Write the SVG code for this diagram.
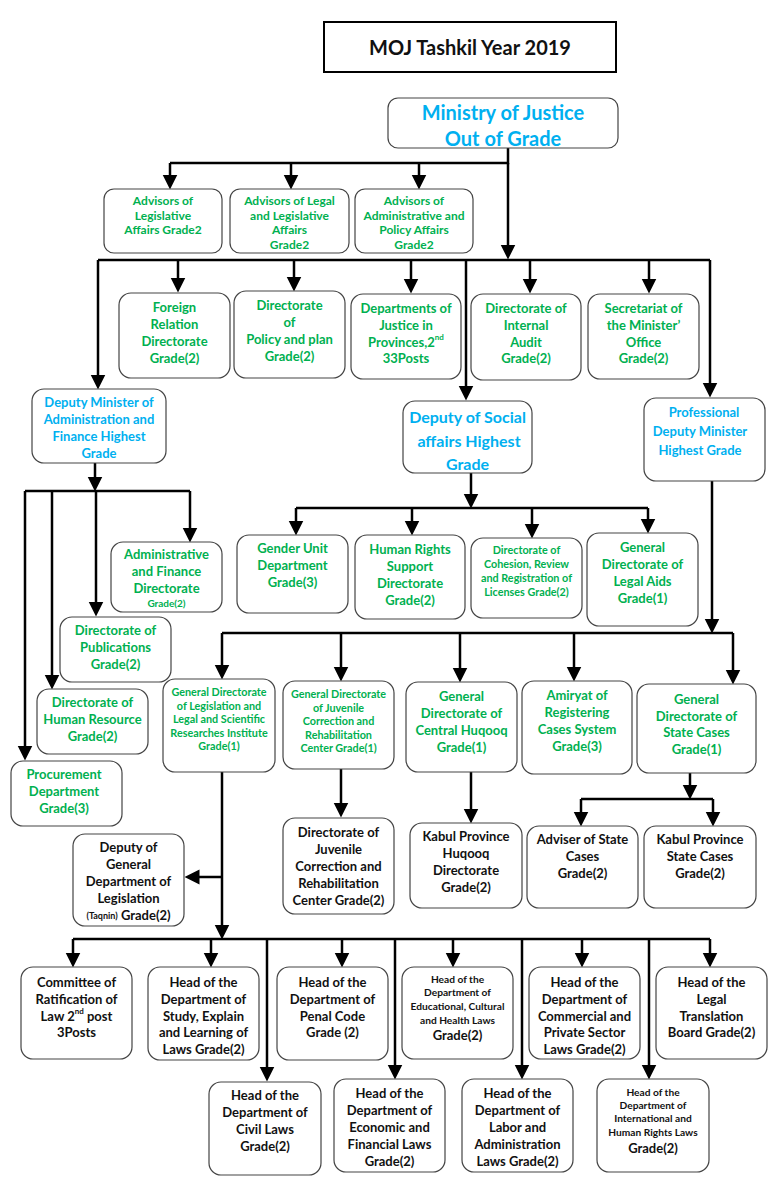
<svg xmlns="http://www.w3.org/2000/svg" width="780" height="1200" viewBox="0 0 780 1200">
<style>
.box{fill:#fff;stroke:#444;stroke-width:1.2}
.t{font-family:Lato,"Open Sans","Liberation Sans",sans-serif;font-weight:bold;text-anchor:middle;dominant-baseline:central}
.g{fill:#00B050}
.b{fill:#00B0F0}
.k{fill:#111}
.s13{font-size:13px}
.s10{font-size:10.8px}
.s9{font-size:10.2px}
.s11{font-size:12px}
.c path{fill:none;stroke:#000;stroke-width:2.5}
.c path.a{marker-end:url(#ah)}
</style>
<defs>
<marker id="ah" viewBox="0 0 10 10" refX="7" refY="5" markerWidth="15" markerHeight="16" markerUnits="userSpaceOnUse" orient="auto"><path d="M0,0 L10,5 L0,10 z" fill="#000"/></marker>
</defs>
<rect width="780" height="1200" fill="#fff"/>

<g id="title">
<rect x="324" y="22" width="292" height="50" fill="#fff" stroke="#000" stroke-width="2"/>
<text class="t k" x="470" y="47" font-size="20">MOJ Tashkil Year 2019</text>
</g>

<g class="c" id="connectors">
<path d="M508,148 V163 H170"/>
<path class="a" d="M508,163 V255"/>
<path class="a" d="M170,163 V185"/>
<path class="a" d="M291,163 V185"/>
<path class="a" d="M419,163 V185"/>
<path d="M98,260 H710"/>
<path class="a" d="M98,260 V385"/>
<path class="a" d="M178,260 V288"/>
<path class="a" d="M294,260 V287"/>
<path class="a" d="M411,260 V289"/>
<path class="a" d="M530,260 V289"/>
<path class="a" d="M649,260 V289"/>
<path class="a" d="M466,260 V396"/>
<path class="a" d="M710,260 V393"/>
<path class="a" d="M95,463 V487"/>
<path d="M25,491 H190"/>
<path class="a" d="M25,491 V756"/>
<path class="a" d="M52,491 V685"/>
<path class="a" d="M96,491 V612"/>
<path class="a" d="M190,491 V538"/>
<path class="a" d="M471,473 V504"/>
<path d="M296,508 H648"/>
<path class="a" d="M296,508 V531"/>
<path class="a" d="M412,508 V531"/>
<path class="a" d="M532,508 V534"/>
<path class="a" d="M648,508 V529"/>
<path class="a" d="M712,481 V629"/>
<path d="M222,633 H733"/>
<path class="a" d="M222,633 V675"/>
<path class="a" d="M341,633 V677"/>
<path class="a" d="M460,633 V678"/>
<path class="a" d="M574,633 V677"/>
<path class="a" d="M733,633 V680"/>
<path class="a" d="M341,769 V813"/>
<path class="a" d="M471,772 V819"/>
<path class="a" d="M690,773 V795"/>
<path d="M581,799 H713"/>
<path class="a" d="M581,799 V822"/>
<path class="a" d="M713,799 V822"/>
<path class="a" d="M222,772 V935"/>
<path class="a" d="M222,877 H189"/>
<path d="M73,939 H710"/>
<path class="a" d="M73,939 V963"/>
<path class="a" d="M211,939 V963"/>
<path class="a" d="M342,939 V963"/>
<path class="a" d="M453,939 V963"/>
<path class="a" d="M582,939 V963"/>
<path class="a" d="M710,939 V963"/>
<path class="a" d="M267,939 V1077"/>
<path class="a" d="M395,939 V1075"/>
<path class="a" d="M522,939 V1075"/>
<path class="a" d="M649,939 V1075"/>
</g>

<g id="ministry">
<rect class="box" x="388" y="98" width="230" height="50" rx="10"/>
<text class="t b" x="503" y="112" font-size="20">Ministry of Justice</text>
<text class="t b" x="503" y="138" font-size="20">Out of Grade</text>
</g>

<g id="adv1">
<rect class="box" x="104" y="189" width="118" height="64" rx="10"/>
<text class="t g s11" x="163" y="200">Advisors of</text>
<text class="t g s11" x="163" y="215">Legislative</text>
<text class="t g s11" x="163" y="229">Affairs Grade2</text>
</g>
<g id="adv2">
<rect class="box" x="230" y="189" width="119" height="64" rx="10"/>
<text class="t g s11" x="289.5" y="200">Advisors of Legal</text>
<text class="t g s11" x="289.5" y="215">and Legislative</text>
<text class="t g s11" x="289.5" y="229">Affairs</text>
<text class="t g s11" x="289.5" y="244">Grade2</text>
</g>
<g id="adv3">
<rect class="box" x="355" y="189" width="118" height="64" rx="10"/>
<text class="t g s11" x="414" y="200">Advisors of</text>
<text class="t g s11" x="414" y="215">Administrative and</text>
<text class="t g s11" x="414" y="229">Policy Affairs</text>
<text class="t g s11" x="414" y="244">Grade2</text>
</g>

<g id="foreign">
<rect class="box" x="119" y="293" width="111" height="85" rx="12"/>
<text class="t g s13" x="174.5" y="307">Foreign</text>
<text class="t g s13" x="174.5" y="324">Relation</text>
<text class="t g s13" x="174.5" y="341">Directorate</text>
<text class="t g s13" x="174.5" y="358">Grade(2)</text>
</g>
<g id="policy">
<rect class="box" x="234" y="291" width="111" height="87" rx="12"/>
<text class="t g s13" x="289.5" y="305">Directorate</text>
<text class="t g s13" x="289.5" y="322">of</text>
<text class="t g s13" x="289.5" y="339">Policy and plan</text>
<text class="t g s13" x="289.5" y="356">Grade(2)</text>
</g>
<g id="deptjustice">
<rect class="box" x="351" y="294" width="110" height="85" rx="12"/>
<text class="t g s13" x="406" y="308">Departments of</text>
<text class="t g s13" x="406" y="325">Justice in</text>
<text class="t g s13" x="406" y="342">Provinces,2<tspan font-size="8" dy="-5">nd</tspan></text>
<text class="t g s13" x="406" y="358">33Posts</text>
</g>
<g id="audit">
<rect class="box" x="471" y="294" width="110" height="86" rx="12"/>
<text class="t g s13" x="526" y="308">Directorate of</text>
<text class="t g s13" x="526" y="325">Internal</text>
<text class="t g s13" x="526" y="342">Audit</text>
<text class="t g s13" x="526" y="358">Grade(2)</text>
</g>
<g id="secretariat">
<rect class="box" x="588" y="294" width="111" height="85" rx="12"/>
<text class="t g s13" x="643.5" y="308">Secretariat of</text>
<text class="t g s13" x="643.5" y="325">the Minister’</text>
<text class="t g s13" x="643.5" y="342">Office</text>
<text class="t g s13" x="643.5" y="358">Grade(2)</text>
</g>

<g id="depadmin">
<rect class="box" x="32" y="389" width="134" height="74" rx="12"/>
<text class="t b s13" x="99" y="402">Deputy Minister of</text>
<text class="t b s13" x="99" y="419">Administration and</text>
<text class="t b s13" x="99" y="436">Finance Highest</text>
<text class="t b s13" x="99" y="453">Grade</text>
</g>
<g id="depsocial">
<rect class="box" x="403" y="401" width="129" height="72" rx="12"/>
<text class="t b" x="467.5" y="416" font-size="16">Deputy of Social</text>
<text class="t b" x="469" y="440" font-size="16">affairs Highest</text>
<text class="t b" x="467.5" y="463" font-size="16">Grade</text>
</g>
<g id="professional">
<rect class="box" x="644" y="398" width="121" height="83" rx="12"/>
<text class="t b s13" x="704" y="412">Professional</text>
<text class="t b s13" x="700" y="431">Deputy Minister</text>
<text class="t b s13" x="700" y="450">Highest Grade</text>
</g>

<g id="adminfin">
<rect class="box" x="111" y="542" width="111" height="70" rx="12"/>
<text class="t g s13" x="166.5" y="554">Administrative</text>
<text class="t g s13" x="166.5" y="571">and Finance</text>
<text class="t g s13" x="166.5" y="588">Directorate</text>
<text class="t g" x="166.5" y="603" font-size="10">Grade(2)</text>
</g>
<g id="publications">
<rect class="box" x="60" y="617" width="111" height="65" rx="12"/>
<text class="t g s13" x="115.5" y="630">Directorate of</text>
<text class="t g s13" x="115.5" y="647">Publications</text>
<text class="t g s13" x="115.5" y="664">Grade(2)</text>
</g>
<g id="hr">
<rect class="box" x="37" y="689" width="111" height="65" rx="12"/>
<text class="t g s13" x="92.5" y="702">Directorate of</text>
<text class="t g s13" x="92.5" y="719">Human Resource</text>
<text class="t g s13" x="92.5" y="736">Grade(2)</text>
</g>
<g id="procurement">
<rect class="box" x="11" y="761" width="111" height="65" rx="12"/>
<text class="t g s13" x="64" y="774">Procurement</text>
<text class="t g s13" x="64" y="791">Department</text>
<text class="t g s13" x="64" y="808">Grade(3)</text>
</g>

<g id="gender">
<rect class="box" x="237" y="535" width="111" height="78" rx="12"/>
<text class="t g s13" x="292.5" y="548">Gender Unit</text>
<text class="t g s13" x="292.5" y="565">Department</text>
<text class="t g s13" x="292.5" y="582">Grade(3)</text>
</g>
<g id="humanrights">
<rect class="box" x="355" y="535" width="110" height="84" rx="12"/>
<text class="t g s13" x="410" y="549">Human Rights</text>
<text class="t g s13" x="410" y="566">Support</text>
<text class="t g s13" x="410" y="583">Directorate</text>
<text class="t g s13" x="410" y="600">Grade(2)</text>
</g>
<g id="cohesion">
<rect class="box" x="471" y="538" width="111" height="80" rx="12"/>
<text class="t g s10" x="526.5" y="549">Directorate of</text>
<text class="t g s10" x="526.5" y="563">Cohesion, Review</text>
<text class="t g s10" x="526.5" y="577">and Registration of</text>
<text class="t g s10" x="526.5" y="591">Licenses Grade(2)</text>
</g>
<g id="legalaids">
<rect class="box" x="587" y="533" width="111" height="93" rx="12"/>
<text class="t g s13" x="642.5" y="547">General</text>
<text class="t g s13" x="642.5" y="564">Directorate of</text>
<text class="t g s13" x="642.5" y="581">Legal Aids</text>
<text class="t g s13" x="642.5" y="598">Grade(1)</text>
</g>

<g id="legislation">
<rect class="box" x="163" y="679" width="112" height="93" rx="12"/>
<text class="t g s10" x="219" y="691">General Directorate</text>
<text class="t g s10" x="219" y="705">of  Legislation and</text>
<text class="t g s10" x="219" y="718">Legal and Scientific</text>
<text class="t g s10" x="219" y="732">Researches Institute</text>
<text class="t g s10" x="219" y="745">Grade(1)</text>
</g>
<g id="juvenilegd">
<rect class="box" x="283" y="681" width="111" height="88" rx="12"/>
<text class="t g s10" x="338.5" y="693">General Directorate</text>
<text class="t g s10" x="338.5" y="707">of Juvenile</text>
<text class="t g s10" x="338.5" y="720">Correction and</text>
<text class="t g s10" x="338.5" y="734">Rehabilitation</text>
<text class="t g s10" x="338.5" y="747">Center Grade(1)</text>
</g>
<g id="centralhuqooq">
<rect class="box" x="406" y="682" width="111" height="90" rx="12"/>
<text class="t g s13" x="461.5" y="696">General</text>
<text class="t g s13" x="461.5" y="713">Directorate of</text>
<text class="t g s13" x="461.5" y="730">Central Huqooq</text>
<text class="t g s13" x="461.5" y="747">Grade(1)</text>
</g>
<g id="amiryat">
<rect class="box" x="522" y="681" width="110" height="93" rx="12"/>
<text class="t g s13" x="577" y="695">Amiryat of</text>
<text class="t g s13" x="577" y="712">Registering</text>
<text class="t g s13" x="577" y="729">Cases System</text>
<text class="t g s13" x="577" y="746">Grade(3)</text>
</g>
<g id="statecases">
<rect class="box" x="637" y="684" width="119" height="89" rx="12"/>
<text class="t g s13" x="696.5" y="699">General</text>
<text class="t g s13" x="696.5" y="716">Directorate of</text>
<text class="t g s13" x="696.5" y="732">State Cases</text>
<text class="t g s13" x="696.5" y="749">Grade(1)</text>
</g>

<g id="juveniledir">
<rect class="box" x="283" y="818" width="111" height="96" rx="12"/>
<text class="t k s13" x="338.5" y="832">Directorate of</text>
<text class="t k s13" x="338.5" y="849">Juvenile</text>
<text class="t k s13" x="338.5" y="866">Correction and</text>
<text class="t k s13" x="338.5" y="883">Rehabilitation</text>
<text class="t k s13" x="338.5" y="900">Center Grade(2)</text>
</g>
<g id="kabulhuqooq">
<rect class="box" x="410" y="823" width="112" height="85" rx="12"/>
<text class="t k s13" x="466" y="836">Kabul Province</text>
<text class="t k s13" x="466" y="853">Huqooq</text>
<text class="t k s13" x="466" y="870">Directorate</text>
<text class="t k s13" x="466" y="887">Grade(2)</text>
</g>
<g id="adviser">
<rect class="box" x="527" y="826" width="111" height="82" rx="12"/>
<text class="t k s13" x="582.5" y="839">Adviser of State</text>
<text class="t k s13" x="582.5" y="856">Cases</text>
<text class="t k s13" x="582.5" y="873">Grade(2)</text>
</g>
<g id="kabulstate">
<rect class="box" x="644" y="826" width="112" height="82" rx="12"/>
<text class="t k s13" x="700" y="839">Kabul Province</text>
<text class="t k s13" x="700" y="856">State Cases</text>
<text class="t k s13" x="700" y="873">Grade(2)</text>
</g>
<g id="deputygd">
<rect class="box" x="73" y="834" width="111" height="92" rx="12"/>
<text class="t k s13" x="128.5" y="847">Deputy of</text>
<text class="t k s13" x="128.5" y="864">General</text>
<text class="t k s13" x="128.5" y="881">Department  of</text>
<text class="t k s13" x="128.5" y="898">Legislation</text>
<text class="t k s13" x="128.5" y="915"><tspan font-size="9">(Taqnin)</tspan> Grade(2)</text>
</g>

<g id="committee">
<rect class="box" x="21" y="967" width="111" height="92" rx="12"/>
<text class="t k s13" x="76.5" y="982">Committee of</text>
<text class="t k s13" x="76.5" y="999">Ratification of</text>
<text class="t k s13" x="76.5" y="1016">Law 2<tspan font-size="8" dy="-5">nd</tspan><tspan dy="5"> post</tspan></text>
<text class="t k s13" x="76.5" y="1032">3Posts</text>
</g>
<g id="study">
<rect class="box" x="148" y="967" width="111" height="93" rx="12"/>
<text class="t k s13" x="203.5" y="982">Head of the</text>
<text class="t k s13" x="203.5" y="999">Department of</text>
<text class="t k s13" x="203.5" y="1016">Study, Explain</text>
<text class="t k s13" x="203.5" y="1032">and Learning of</text>
<text class="t k s13" x="203.5" y="1049">Laws Grade(2)</text>
</g>
<g id="penal">
<rect class="box" x="277" y="967" width="111" height="93" rx="12"/>
<text class="t k s13" x="332.5" y="982">Head of the</text>
<text class="t k s13" x="332.5" y="999">Department of</text>
<text class="t k s13" x="332.5" y="1016">Penal Code</text>
<text class="t k s13" x="332.5" y="1032">Grade (2)</text>
</g>
<g id="educational">
<rect class="box" x="402" y="967" width="111" height="92" rx="12"/>
<text class="t k s9" x="457.5" y="979">Head of the</text>
<text class="t k s9" x="457.5" y="992">Department of</text>
<text class="t k s9" x="457.5" y="1006">Educational, Cultural</text>
<text class="t k s9" x="457.5" y="1020">and Health Laws</text>
<text class="t k s13" x="457.5" y="1035">Grade(2)</text>
</g>
<g id="commercial">
<rect class="box" x="529" y="967" width="111" height="92" rx="12"/>
<text class="t k s13" x="584.5" y="982">Head of the</text>
<text class="t k s13" x="584.5" y="999">Department of</text>
<text class="t k s13" x="584.5" y="1016">Commercial and</text>
<text class="t k s13" x="584.5" y="1032">Private Sector</text>
<text class="t k s13" x="584.5" y="1049">Laws Grade(2)</text>
</g>
<g id="legaltranslation">
<rect class="box" x="656" y="967" width="111" height="92" rx="12"/>
<text class="t k s13" x="711.5" y="982">Head of the</text>
<text class="t k s13" x="711.5" y="999">Legal</text>
<text class="t k s13" x="711.5" y="1016">Translation</text>
<text class="t k s13" x="711.5" y="1032">Board Grade(2)</text>
</g>
<g id="civil">
<rect class="box" x="209" y="1082" width="112" height="93" rx="12"/>
<text class="t k s13" x="265" y="1095">Head of the</text>
<text class="t k s13" x="265" y="1112">Department of</text>
<text class="t k s13" x="265" y="1129">Civil Laws</text>
<text class="t k s13" x="265" y="1146">Grade(2)</text>
</g>
<g id="economic">
<rect class="box" x="334" y="1079" width="111" height="93" rx="12"/>
<text class="t k s13" x="389.5" y="1093">Head of the</text>
<text class="t k s13" x="389.5" y="1110">Department of</text>
<text class="t k s13" x="389.5" y="1127">Economic and</text>
<text class="t k s13" x="389.5" y="1144">Financial Laws</text>
<text class="t k s13" x="389.5" y="1161">Grade(2)</text>
</g>
<g id="labor">
<rect class="box" x="462" y="1079" width="111" height="93" rx="12"/>
<text class="t k s13" x="517.5" y="1093">Head of the</text>
<text class="t k s13" x="517.5" y="1110">Department of</text>
<text class="t k s13" x="517.5" y="1127">Labor and</text>
<text class="t k s13" x="517.5" y="1144">Administration</text>
<text class="t k s13" x="517.5" y="1161">Laws Grade(2)</text>
</g>
<g id="international">
<rect class="box" x="597" y="1079" width="112" height="93" rx="12"/>
<text class="t k s9" x="653" y="1092">Head of the</text>
<text class="t k s9" x="653" y="1105">Department of</text>
<text class="t k s9" x="653" y="1118">International and</text>
<text class="t k s9" x="653" y="1132">Human Rights Laws</text>
<text class="t k s13" x="653" y="1148">Grade(2)</text>
</g>
</svg>
